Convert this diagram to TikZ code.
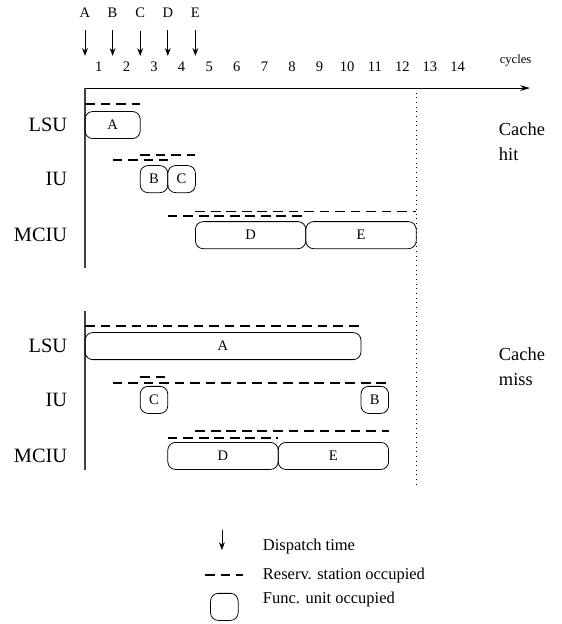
\documentclass[tikz,border=0pt]{standalone}
\usepackage{fontspec}
\setmainfont{Liberation Serif}
\usetikzlibrary{arrows.meta, positioning}

\begin{document}
\begin{tikzpicture}[x=0.5cm, y=0.5cm,
  fu/.style={draw, rounded corners=4pt, minimum height=0.49cm, inner sep=0pt,
    font=\fontsize{7.5}{9}\selectfont},
  rs/.style={dash pattern=on 5pt off 3pt, line width=0.65pt},
  disp/.style={-{Stealth[length=4pt, width=3pt]}, thin},
  unit/.style={anchor=east, font=\fontsize{10.5}{12}\selectfont},
  tick/.style={font=\fontsize{7.5}{9}\selectfont},
  note/.style={anchor=west, align=left, font=\fontsize{9.5}{13}\selectfont},
  legend/.style={anchor=west, font=\fontsize{8.5}{10}\selectfont}]
  \useasboundingbox (-3.08,3.19) rectangle (17.25,-19.42);
  % time axis
  \coordinate (o) at (0,0);
  \coordinate (xend) at (16.12,0);
  \draw[-{Stealth[length=5pt, width=3pt]}, thin] (o) -- (xend);
  \node[font=\fontsize{6.5}{8}\selectfont] (cyc) at (15.6,1.0) {cycles};
  \foreach \n in {1,...,14}
    \node[tick] (t\n) at (\n-0.5,0.76) {\n};
  \foreach \l [count=\i from 0] in {A,B,C,D,E} {
    \node[tick] (d\l) at (\i,2.72) {\l};
    \draw[disp] ([yshift=-3pt]d\l.south) -- ++(0,-0.92);
  }
  \coordinate (h0) at (0,-6.52);
  \coordinate (m0) at (0,-8.08);
  \coordinate (m1) at (0,-13.84);
  \draw[line width=0.6pt, black!75] (o) -- (h0);
  \draw[line width=0.6pt, black!75] (m0) -- (m1);
  \coordinate (w0) at (12,0);
  \coordinate (w1) at (12,-14.38);
  \draw[dotted, thin] (w0) -- (w1);

  % cache hit
  \node[unit] (hlsu) at (-0.4,-1.34) {LSU};
  \node[unit] (hiu) at (-0.4,-3.30) {IU};
  \node[unit] (hmciu) at (-0.4,-5.33) {MCIU};
  \draw[rs] (0,-0.58) -- (2,-0.58);
  \draw[rs] (1,-2.61) -- (3,-2.61);
  \draw[rs] (2,-2.43) -- (4,-2.43);
  \draw[rs] (3,-4.64) -- (8,-4.64);
  \draw[rs] (4,-4.46) -- (12,-4.46);
  \node[fu, minimum width=1cm] (hA) at (1,-1.34) {A};
  \node[fu, minimum width=0.5cm] (hB) at (2.5,-3.30) {B};
  \node[fu, minimum width=0.5cm] (hC) at (3.5,-3.30) {C};
  \node[fu, minimum width=2cm] (hD) at (6,-5.33) {D};
  \node[fu, minimum width=2cm] (hE) at (10,-5.33) {E};
  \node[note] (hit) at (14.75,-1.95) {Cache\\hit};

  % cache miss
  \node[unit] (mlsu) at (-0.4,-9.35) {LSU};
  \node[unit] (miu) at (-0.4,-11.30) {IU};
  \node[unit] (mmciu) at (-0.4,-13.33) {MCIU};
  \draw[rs] (0,-8.62) -- (10,-8.62);
  \draw[rs] (1,-10.69) -- (11,-10.69);
  \draw[rs] (2,-10.47) -- (3,-10.47);
  \draw[rs] (3,-12.68) -- (7,-12.68);
  \draw[rs] (4,-12.43) -- (11,-12.43);
  \node[fu, minimum width=5cm] (mA) at (5,-9.35) {A};
  \node[fu, minimum width=0.5cm] (mC) at (2.5,-11.30) {C};
  \node[fu, minimum width=0.5cm] (mB) at (10.5,-11.30) {B};
  \node[fu, minimum width=2cm] (mD) at (5,-13.33) {D};
  \node[fu, minimum width=2cm] (mE) at (9,-13.33) {E};
  \node[note] (miss) at (14.75,-10.1) {Cache\\miss};

  % legend
  \coordinate (k0) at (4.96,-16.0);
  \coordinate (k1) at (4.96,-16.74);
  \draw[disp] (k0) -- (k1);
  \node[legend] (kdisp) at (6.2,-16.63) {Dispatch time};
  \draw[rs] (4.35,-17.64) -- (5.72,-17.64);
  \node[legend] (krs) at (6.2,-17.68) {Reserv. station occupied};
  \node[fu, minimum width=0.5cm] (kfu) at (5.05,-18.8) {};
  \node[legend] (kfun) at (6.2,-18.55) {Func. unit occupied};
\end{tikzpicture}
\end{document}
